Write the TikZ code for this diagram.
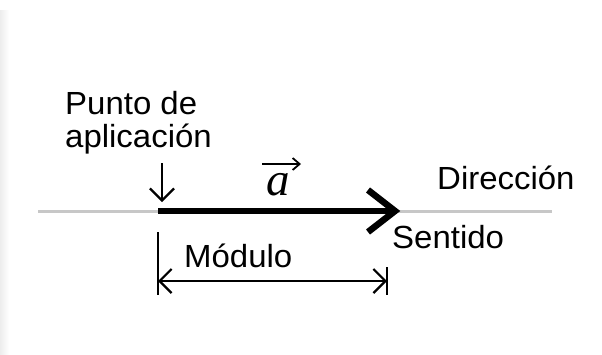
\documentclass[tikz,border=0pt]{standalone}
\usepackage{fontspec}
\setmainfont{Liberation Sans}
\newfontfamily\timesfont{Liberation Serif}
\usetikzlibrary{arrows.meta}
\tikzset{
  lbl/.style={inner sep=0pt, anchor=base west, font=\fontsize{32}{33}\selectfont, xscale=1.03, align=left},
  dirline/.style={draw=black!22, line width=3pt},
  vecline/.style={draw=black, line width=6.5pt},
  thin/.style={draw=black, line width=2.2pt},
  barb/.tip={Straight Barb[length=12pt,width=24pt,line width=2.2pt]},
}
\begin{document}
\begin{tikzpicture}[x=1pt,y=-1pt]
\useasboundingbox (0,0) rectangle (602,354);
\fill[left color=black!7, right color=white] (0,10) rectangle (9,354);
% coordinates
\coordinate (dl) at (38,211);
\coordinate (dr) at (552,211);
\coordinate (vs) at (158,211);
\coordinate (ve) at (395,211);
\coordinate (hu) at (368,190);
\coordinate (hd) at (368,232);
\coordinate (pt) at (162,163);
\coordinate (pb) at (162,202);
\coordinate (ml) at (158,281);
\coordinate (mr) at (387,281);
\coordinate (mlt) at (158,232);
\coordinate (mlb) at (158,295);
\coordinate (mrt) at (387,267);
\coordinate (mrb) at (387,295);
\coordinate (al) at (262,164);
\coordinate (ar) at (301,164);
% direction line
\draw[dirline] (dl) -- (dr);
% vector
\draw[vecline] (vs) -- (ve);
\draw[vecline, line join=miter, miter limit=10] (hu) -- (ve) -- (hd);
% point of application arrow
\draw[thin, -barb] (pt) -- (pb);
% modulo
\draw[thin] (mlt) -- (mlb);
\draw[thin] (mrt) -- (mrb);
\draw[thin, barb-barb] (ml) -- (mr);
% vector label
\node[inner sep=0pt, anchor=base] (a) at (278,195) {\timesfont\itshape\fontsize{47}{47}\selectfont a};
\draw[line width=1.8pt, -{Straight Barb[length=7pt,width=12pt,line width=1.8pt]}] (al) -- (ar);
% labels
\node[lbl] (punto) at (65,147) {Punto de\\aplicación};
\node[lbl] (dir) at (437,189) {Dirección};
\node[lbl] (sent) at (392,248) {Sentido};
\node[lbl] (mod) at (184,267) {Módulo};
\end{tikzpicture}
\end{document}
